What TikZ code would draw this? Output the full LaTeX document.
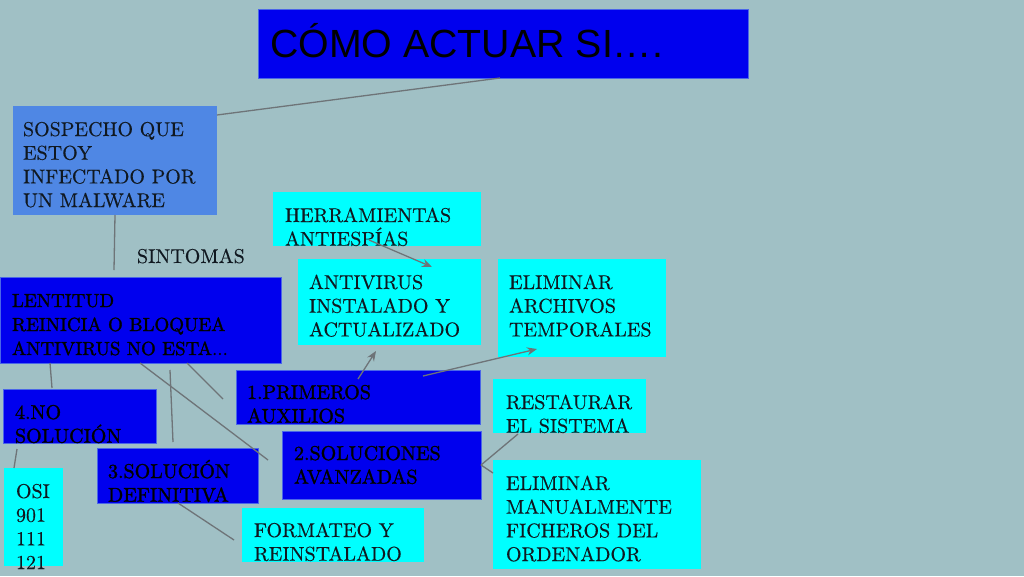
\documentclass[tikz,border=0pt]{standalone}
\usepackage{fontspec}
\setmainfont{lmroman10-regular.otf}
\newfontfamily\bodyfont{lmroman10-regular.otf}[FakeBold=0.3]
\newfontfamily\heavyfont{lmroman10-regular.otf}[FakeBold=1.4]
\newfontfamily\titlefont{Liberation Sans}
\usetikzlibrary{arrows.meta}
\definecolor{bgc}{HTML}{A0C0C5}
\definecolor{bluebox}{HTML}{0000EE}
\definecolor{blueedge}{HTML}{4A66E8}
\definecolor{cyanbox}{HTML}{00FFFF}
\definecolor{midblue}{HTML}{4F87E4}
\definecolor{linec}{HTML}{6E7478}
\definecolor{txtc}{HTML}{101820}
\newcommand\fl{\rule{0pt}{19pt}}
\tikzset{
  bx/.style={anchor=north west, inner sep=0pt, outer sep=0pt},
  bluebx/.style={bx, fill=bluebox, draw=blueedge, line width=0.8pt},
  cyanbx/.style={bx, fill=cyanbox},
  tx/.style={anchor=north west, inner sep=0pt, outer sep=0pt, align=left, text=txtc,
    font=\bodyfont\fontsize{20}{23.7}\selectfont},
  txb/.style={tx, text=black, font=\heavyfont\fontsize{20}{23.7}\selectfont},
  conn/.style={draw=linec, line width=1.3pt},
  arr/.style={conn, -{Stealth[length=10pt,width=8pt]}}
}
\begin{document}
\begin{tikzpicture}[x=1pt,y=-1pt]
\fill[bgc] (0,0) rectangle (1024,576);
\useasboundingbox (0,0) rectangle (1024,576);
% boxes
\node[bluebx, minimum width=490, minimum height=69] (title) at (258,9) {};
\node[anchor=base west, inner sep=0pt, font=\titlefont\fontsize{39.3}{40}\selectfont] (titlet) at (270,57) {CÓMO ACTUAR SI….};

\node[bx, fill=midblue, minimum width=204, minimum height=109] (sosp) at (13,106) {};
\node[tx] (sospt) at (23,136-19) {\fl SOSPECHO QUE\\ESTOY\\INFECTADO POR\\UN MALWARE};

\node[tx] (sint) at (137,263-19) {\fl SINTOMAS};

\node[bluebx, minimum width=281, minimum height=86] (lent) at (0,277) {};
\node[txb, font=\heavyfont\fontsize{19}{24}\selectfont] (lentt) at (12,307-19) {\fl LENTITUD\\REINICIA O BLOQUEA\\ANTIVIRUS NO ESTA...};

\node[cyanbx, minimum width=208, minimum height=54] (herr) at (273,192) {};
\node[tx] (herrt) at (285,222-19) {\fl HERRAMIENTAS\\ANTIESPÍAS};

\node[cyanbx, minimum width=183, minimum height=86] (anti) at (298,259) {};
\node[tx] (antit) at (309,289-19) {\fl ANTIVIRUS\\INSTALADO Y\\ACTUALIZADO};

\node[cyanbx, minimum width=168, minimum height=98] (elim) at (498,259) {};
\node[tx] (elimt) at (509,289-19) {\fl ELIMINAR\\ARCHIVOS\\TEMPORALES};

\node[bluebx, minimum width=244, minimum height=54] (prim) at (236,370) {};
\node[txb] (primt) at (247,399-19) {\fl 1.PRIMEROS\\AUXILIOS};

\node[cyanbx, minimum width=153, minimum height=54] (rest) at (493,379) {};
\node[tx] (restt) at (506,409-19) {\fl RESTAURAR\\EL SISTEMA};

\node[bluebx, minimum width=199, minimum height=68] (solu) at (282,431) {};
\node[txb] (solut) at (294,460-19) {\fl 2.SOLUCIONES\\AVANZADAS};

\node[cyanbx, minimum width=208, minimum height=109] (manu) at (493,460) {};
\node[tx] (manut) at (506,490-19) {\fl ELIMINAR\\MANUALMENTE\\FICHEROS DEL\\ORDENADOR};

\node[bluebx, minimum width=153, minimum height=54] (nosol) at (3,389) {};
\node[txb] (nosolt) at (15,419-19) {\fl 4.NO\\SOLUCIÓN};

\node[bluebx, minimum width=161, minimum height=55] (defi) at (97,448) {};
\node[txb] (defit) at (108,478-19) {\fl 3.SOLUCIÓN\\DEFINITIVA};

\node[cyanbx, minimum width=59, minimum height=98] (osi) at (4,468) {};
\node[tx] (osit) at (16,498-19) {\fl OSI\\901\\111\\121};

\node[cyanbx, minimum width=182, minimum height=54] (form) at (242,508) {};
\node[tx] (formt) at (254,537-19) {\fl FORMATEO Y\\REINSTALADO};

% connector end points
\coordinate (a1) at (500,78);
\coordinate (a2) at (217,115);
\coordinate (b1) at (115,215);
\coordinate (b2) at (114,270);
\coordinate (c1) at (369,240);
\coordinate (c2) at (432,267);
\coordinate (d1) at (358,379);
\coordinate (d2) at (376,351);
\coordinate (e1) at (423,376);
\coordinate (e2) at (537,349);
\coordinate (f1) at (50,363);
\coordinate (f2) at (52,388);
\coordinate (g1) at (170,370);
\coordinate (g2) at (173,442);
\coordinate (h1) at (140,363);
\coordinate (h2) at (268,460);
\coordinate (i1) at (187,363);
\coordinate (i2) at (223,399);
\coordinate (j1) at (17,449);
\coordinate (j2) at (14,468);
\coordinate (k1) at (178,503);
\coordinate (k2) at (234,540);
\coordinate (l1) at (481,465);
\coordinate (l2) at (518,434);
\coordinate (m2) at (493,473);

\draw[conn] (a1) -- (a2);
\draw[conn] (b1) -- (b2);
\draw[arr] (c1) -- (c2);
\draw[arr] (d1) -- (d2);
\draw[arr] (e1) -- (e2);
\draw[conn] (f1) -- (f2);
\draw[conn] (g1) -- (g2);
\draw[conn] (h1) -- (h2);
\draw[conn] (i1) -- (i2);
\draw[conn] (j1) -- (j2);
\draw[conn] (k1) -- (k2);
\draw[conn] (l1) -- (l2);
\draw[conn] (l1) -- (m2);
\end{tikzpicture}
\end{document}
